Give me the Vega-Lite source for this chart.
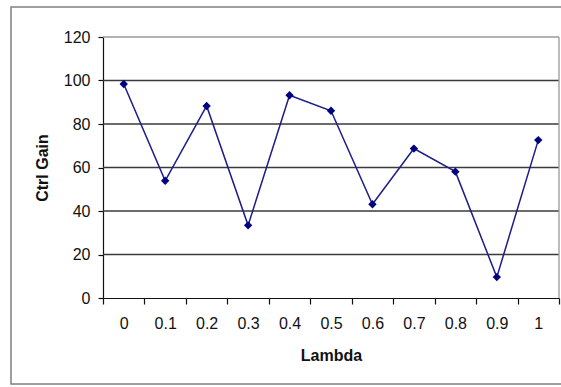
{
  "$schema": "https://vega.github.io/schema/vega-lite/v6.json",
  "autosize": {"type": "none"},
  "padding": {"left": 11, "top": 7, "right": 0, "bottom": 3},
  "width": 552,
  "height": 377,
  "background": "white",
  "config": {
    "font": "Liberation Sans",
    "view": {"stroke": "#808080", "strokeWidth": 1.5},
    "axis": {
      "labelFont": "Liberation Sans",
      "labelFontSize": 16,
      "labelColor": "#111",
      "titleFont": "Liberation Sans",
      "titleFontSize": 16,
      "titleFontWeight": "bold",
      "titleColor": "#111",
      "domainColor": "#111",
      "domainWidth": 1.2,
      "tickColor": "#111",
      "tickWidth": 1.2,
      "grid": false
    }
  },
  "datasets": {
    "series": [
      {"lambda": 0.0, "gain": 98.4},
      {"lambda": 0.1, "gain": 53.9},
      {"lambda": 0.2, "gain": 88.3},
      {"lambda": 0.3, "gain": 33.4},
      {"lambda": 0.4, "gain": 93.2},
      {"lambda": 0.5, "gain": 86.1},
      {"lambda": 0.6, "gain": 43.1},
      {"lambda": 0.7, "gain": 68.7},
      {"lambda": 0.8, "gain": 58.1},
      {"lambda": 0.9, "gain": 9.6},
      {"lambda": 1.0, "gain": 72.6}
    ],
    "gridlines": [
      {"level": 20}, {"level": 40}, {"level": 60}, {"level": 80}, {"level": 100}
    ]
  },
  "resolve": {"axis": {"x": "independent", "y": "independent"}},
  "layer": [
    {
      "data": {"name": "gridlines"},
      "mark": {"type": "rule", "stroke": "#3a3a3a", "strokeWidth": 1.3},
      "encoding": {
        "y": {
          "field": "level",
          "type": "quantitative",
          "scale": {"domain": [0, 120], "range": [291, 30], "nice": false, "zero": true},
          "axis": null
        },
        "x": {
          "datum": -0.05,
          "type": "quantitative",
          "scale": {"domain": [-0.05, 1.05], "range": [92, 548], "nice": false, "zero": false},
          "axis": {
            "orient": "bottom",
            "offset": -86,
            "values": [-0.05, 0.05, 0.15, 0.25, 0.35, 0.45, 0.55, 0.65, 0.75, 0.85, 0.95, 1.05],
            "labels": false,
            "domain": false,
            "tickSize": 6,
            "title": null
          }
        },
        "x2": {"datum": 1.05}
      }
    },
    {
      "data": {"values": [{}]},
      "mark": {"type": "rule", "stroke": "#9a9a9a", "strokeWidth": 1.3},
      "encoding": {
        "y": {"datum": 120, "type": "quantitative", "axis": null},
        "x": {"datum": -0.05, "type": "quantitative", "axis": null},
        "x2": {"datum": 1.05}
      }
    },
    {
      "data": {"values": [{}]},
      "mark": {"type": "rule", "stroke": "#9a9a9a", "strokeWidth": 1.3},
      "encoding": {
        "x": {"datum": 1.05, "type": "quantitative", "axis": null},
        "y": {"datum": 0, "type": "quantitative", "axis": null},
        "y2": {"datum": 120}
      }
    },
    {
      "data": {"name": "series"},
      "mark": {
        "type": "line",
        "stroke": "#1c1c8c",
        "strokeWidth": 1.5,
        "point": {"shape": "diamond", "filled": true, "fill": "#000080", "size": 70, "opacity": 1}
      },
      "encoding": {
        "x": {
          "field": "lambda",
          "type": "quantitative",
          "axis": {
            "orient": "bottom",
            "offset": -86,
            "values": [0, 0.1, 0.2, 0.3, 0.4, 0.5, 0.6, 0.7, 0.8, 0.9, 1],
            "format": "~g",
            "ticks": false,
            "labelPadding": 17,
            "titlePadding": 16,
            "title": "Lambda"
          }
        },
        "y": {
          "field": "gain",
          "type": "quantitative",
          "axis": {
            "orient": "left",
            "offset": -92,
            "values": [0, 20, 40, 60, 80, 100, 120],
            "tickSize": 5,
            "labelPadding": 8,
            "titlePadding": 13,
            "title": "Ctrl Gain"
          }
        }
      }
    }
  ]
}
